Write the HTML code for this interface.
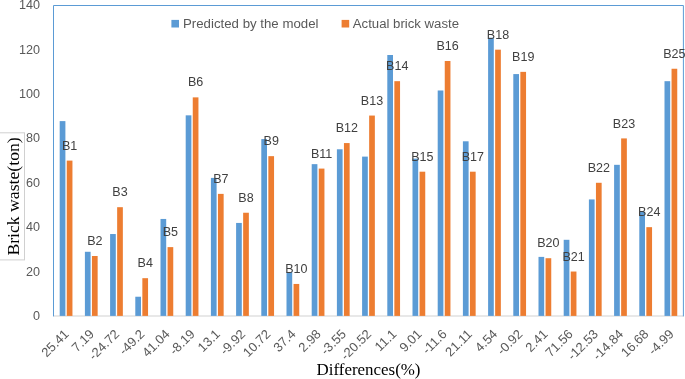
<!DOCTYPE html>
<html><head><meta charset="utf-8"><title>chart</title><style>html,body{margin:0;padding:0;background:#fff;}body{width:685px;height:379px;overflow:hidden;position:relative;}svg{position:absolute;left:0;top:0;display:block;will-change:transform;}text{font-family:"Liberation Sans",sans-serif;}.s{font-family:"Liberation Serif",serif;}</style>
</head><body>
<svg width="685" height="379" viewBox="0 0 685 379">
<rect x="0" y="0" width="685" height="379" fill="#ffffff"/>
<line x1="53.5" y1="316" x2="683.5" y2="316" stroke="#e0e0e0" stroke-width="1.5"/>
<rect x="59.70" y="121.11" width="5.70" height="194.79" fill="#5b9bd5"/>
<rect x="66.75" y="160.60" width="5.70" height="155.30" fill="#ed7d31"/>
<rect x="84.90" y="251.78" width="5.70" height="64.12" fill="#5b9bd5"/>
<rect x="91.95" y="256.00" width="5.70" height="59.90" fill="#ed7d31"/>
<rect x="110.10" y="234.03" width="5.70" height="81.87" fill="#5b9bd5"/>
<rect x="117.15" y="207.19" width="5.70" height="108.71" fill="#ed7d31"/>
<rect x="135.30" y="296.73" width="5.70" height="19.17" fill="#5b9bd5"/>
<rect x="142.35" y="278.18" width="5.70" height="37.72" fill="#ed7d31"/>
<rect x="160.50" y="218.95" width="5.70" height="96.95" fill="#5b9bd5"/>
<rect x="167.55" y="247.12" width="5.70" height="68.78" fill="#ed7d31"/>
<rect x="185.70" y="115.34" width="5.70" height="200.56" fill="#5b9bd5"/>
<rect x="192.75" y="97.37" width="5.70" height="218.53" fill="#ed7d31"/>
<rect x="210.90" y="177.90" width="5.70" height="138.00" fill="#5b9bd5"/>
<rect x="217.95" y="193.88" width="5.70" height="122.02" fill="#ed7d31"/>
<rect x="236.10" y="222.94" width="5.70" height="92.96" fill="#5b9bd5"/>
<rect x="243.15" y="212.74" width="5.70" height="103.16" fill="#ed7d31"/>
<rect x="261.30" y="139.08" width="5.70" height="176.82" fill="#5b9bd5"/>
<rect x="268.35" y="156.16" width="5.70" height="159.74" fill="#ed7d31"/>
<rect x="286.50" y="271.97" width="5.70" height="43.93" fill="#5b9bd5"/>
<rect x="293.55" y="283.95" width="5.70" height="31.95" fill="#ed7d31"/>
<rect x="311.70" y="164.15" width="5.70" height="151.75" fill="#5b9bd5"/>
<rect x="318.75" y="168.59" width="5.70" height="147.31" fill="#ed7d31"/>
<rect x="336.90" y="149.29" width="5.70" height="166.61" fill="#5b9bd5"/>
<rect x="343.95" y="143.07" width="5.70" height="172.83" fill="#ed7d31"/>
<rect x="362.10" y="156.61" width="5.70" height="159.29" fill="#5b9bd5"/>
<rect x="369.15" y="115.56" width="5.70" height="200.34" fill="#ed7d31"/>
<rect x="387.30" y="55.00" width="5.70" height="260.90" fill="#5b9bd5"/>
<rect x="394.35" y="81.18" width="5.70" height="234.72" fill="#ed7d31"/>
<rect x="412.50" y="158.60" width="5.70" height="157.30" fill="#5b9bd5"/>
<rect x="419.55" y="171.69" width="5.70" height="144.21" fill="#ed7d31"/>
<rect x="437.70" y="90.49" width="5.70" height="225.41" fill="#5b9bd5"/>
<rect x="444.75" y="60.99" width="5.70" height="254.91" fill="#ed7d31"/>
<rect x="462.90" y="141.30" width="5.70" height="174.60" fill="#5b9bd5"/>
<rect x="469.95" y="171.69" width="5.70" height="144.21" fill="#ed7d31"/>
<rect x="488.10" y="37.69" width="5.70" height="278.21" fill="#5b9bd5"/>
<rect x="495.15" y="49.67" width="5.70" height="266.23" fill="#ed7d31"/>
<rect x="513.30" y="74.08" width="5.70" height="241.82" fill="#5b9bd5"/>
<rect x="520.35" y="71.86" width="5.70" height="244.04" fill="#ed7d31"/>
<rect x="538.50" y="256.89" width="5.70" height="59.01" fill="#5b9bd5"/>
<rect x="545.55" y="258.22" width="5.70" height="57.68" fill="#ed7d31"/>
<rect x="563.70" y="239.80" width="5.70" height="76.10" fill="#5b9bd5"/>
<rect x="570.75" y="271.53" width="5.70" height="44.37" fill="#ed7d31"/>
<rect x="588.90" y="199.43" width="5.70" height="116.48" fill="#5b9bd5"/>
<rect x="595.95" y="182.79" width="5.70" height="133.11" fill="#ed7d31"/>
<rect x="614.10" y="164.82" width="5.70" height="151.08" fill="#5b9bd5"/>
<rect x="621.15" y="138.41" width="5.70" height="177.49" fill="#ed7d31"/>
<rect x="639.30" y="211.85" width="5.70" height="104.05" fill="#5b9bd5"/>
<rect x="646.35" y="227.16" width="5.70" height="88.74" fill="#ed7d31"/>
<rect x="664.50" y="81.18" width="5.70" height="234.72" fill="#5b9bd5"/>
<rect x="671.55" y="68.75" width="5.70" height="247.15" fill="#ed7d31"/>
<path d="M53.5 316.4 L53.5 5.5 L683.4 5.5 L683.4 316.4" fill="none" stroke="#5b9bd5" stroke-width="1"/>
<text x="40.0" y="319.90" font-size="12.6" fill="#595959" text-anchor="end">0</text>
<text x="40.0" y="275.53" font-size="12.6" fill="#595959" text-anchor="end">20</text>
<text x="40.0" y="231.16" font-size="12.6" fill="#595959" text-anchor="end">40</text>
<text x="40.0" y="186.79" font-size="12.6" fill="#595959" text-anchor="end">60</text>
<text x="40.0" y="142.41" font-size="12.6" fill="#595959" text-anchor="end">80</text>
<text x="40.0" y="98.04" font-size="12.6" fill="#595959" text-anchor="end">100</text>
<text x="40.0" y="53.67" font-size="12.6" fill="#595959" text-anchor="end">120</text>
<text x="40.0" y="9.30" font-size="12.6" fill="#595959" text-anchor="end">140</text>
<text transform="translate(69.60 149.70) scale(0.965 1)" font-size="13.0" fill="#404040" text-anchor="middle">B1</text>
<text transform="translate(94.80 245.10) scale(0.965 1)" font-size="13.0" fill="#404040" text-anchor="middle">B2</text>
<text transform="translate(120.00 196.29) scale(0.965 1)" font-size="13.0" fill="#404040" text-anchor="middle">B3</text>
<text transform="translate(145.20 267.28) scale(0.965 1)" font-size="13.0" fill="#404040" text-anchor="middle">B4</text>
<text transform="translate(170.40 236.22) scale(0.965 1)" font-size="13.0" fill="#404040" text-anchor="middle">B5</text>
<text transform="translate(195.60 86.47) scale(0.965 1)" font-size="13.0" fill="#404040" text-anchor="middle">B6</text>
<text transform="translate(220.80 182.98) scale(0.965 1)" font-size="13.0" fill="#404040" text-anchor="middle">B7</text>
<text transform="translate(246.00 201.84) scale(0.965 1)" font-size="13.0" fill="#404040" text-anchor="middle">B8</text>
<text transform="translate(271.20 145.26) scale(0.965 1)" font-size="13.0" fill="#404040" text-anchor="middle">B9</text>
<text transform="translate(296.40 273.05) scale(0.965 1)" font-size="13.0" fill="#404040" text-anchor="middle">B10</text>
<text transform="translate(321.60 157.69) scale(0.965 1)" font-size="13.0" fill="#404040" text-anchor="middle">B11</text>
<text transform="translate(346.80 132.17) scale(0.965 1)" font-size="13.0" fill="#404040" text-anchor="middle">B12</text>
<text transform="translate(372.00 104.66) scale(0.965 1)" font-size="13.0" fill="#404040" text-anchor="middle">B13</text>
<text transform="translate(397.20 70.28) scale(0.965 1)" font-size="13.0" fill="#404040" text-anchor="middle">B14</text>
<text transform="translate(422.40 160.79) scale(0.965 1)" font-size="13.0" fill="#404040" text-anchor="middle">B15</text>
<text transform="translate(447.60 50.09) scale(0.965 1)" font-size="13.0" fill="#404040" text-anchor="middle">B16</text>
<text transform="translate(472.80 160.79) scale(0.965 1)" font-size="13.0" fill="#404040" text-anchor="middle">B17</text>
<text transform="translate(498.00 38.77) scale(0.965 1)" font-size="13.0" fill="#404040" text-anchor="middle">B18</text>
<text transform="translate(523.20 60.96) scale(0.965 1)" font-size="13.0" fill="#404040" text-anchor="middle">B19</text>
<text transform="translate(548.40 247.32) scale(0.965 1)" font-size="13.0" fill="#404040" text-anchor="middle">B20</text>
<text transform="translate(573.60 260.63) scale(0.965 1)" font-size="13.0" fill="#404040" text-anchor="middle">B21</text>
<text transform="translate(598.80 171.89) scale(0.965 1)" font-size="13.0" fill="#404040" text-anchor="middle">B22</text>
<text transform="translate(624.00 127.51) scale(0.965 1)" font-size="13.0" fill="#404040" text-anchor="middle">B23</text>
<text transform="translate(649.20 216.26) scale(0.965 1)" font-size="13.0" fill="#404040" text-anchor="middle">B24</text>
<text transform="translate(674.40 57.85) scale(0.965 1)" font-size="13.0" fill="#404040" text-anchor="middle">B25</text>
<text transform="translate(67.30 332.40) rotate(-45)" font-size="13.0" fill="#595959" text-anchor="end" dominant-baseline="middle">25.41</text>
<text transform="translate(92.50 332.40) rotate(-45)" font-size="13.0" fill="#595959" text-anchor="end" dominant-baseline="middle">7.19</text>
<text transform="translate(117.70 332.40) rotate(-45)" font-size="13.0" fill="#595959" text-anchor="end" dominant-baseline="middle">-24.72</text>
<text transform="translate(142.90 332.40) rotate(-45)" font-size="13.0" fill="#595959" text-anchor="end" dominant-baseline="middle">-49.2</text>
<text transform="translate(168.10 332.40) rotate(-45)" font-size="13.0" fill="#595959" text-anchor="end" dominant-baseline="middle">41.04</text>
<text transform="translate(193.30 332.40) rotate(-45)" font-size="13.0" fill="#595959" text-anchor="end" dominant-baseline="middle">-8.19</text>
<text transform="translate(218.50 332.40) rotate(-45)" font-size="13.0" fill="#595959" text-anchor="end" dominant-baseline="middle">13.1</text>
<text transform="translate(243.70 332.40) rotate(-45)" font-size="13.0" fill="#595959" text-anchor="end" dominant-baseline="middle">-9.92</text>
<text transform="translate(268.90 332.40) rotate(-45)" font-size="13.0" fill="#595959" text-anchor="end" dominant-baseline="middle">10.72</text>
<text transform="translate(294.10 332.40) rotate(-45)" font-size="13.0" fill="#595959" text-anchor="end" dominant-baseline="middle">37.4</text>
<text transform="translate(319.30 332.40) rotate(-45)" font-size="13.0" fill="#595959" text-anchor="end" dominant-baseline="middle">2.98</text>
<text transform="translate(344.50 332.40) rotate(-45)" font-size="13.0" fill="#595959" text-anchor="end" dominant-baseline="middle">-3.55</text>
<text transform="translate(369.70 332.40) rotate(-45)" font-size="13.0" fill="#595959" text-anchor="end" dominant-baseline="middle">-20.52</text>
<text transform="translate(394.90 332.40) rotate(-45)" font-size="13.0" fill="#595959" text-anchor="end" dominant-baseline="middle">11.1</text>
<text transform="translate(420.10 332.40) rotate(-45)" font-size="13.0" fill="#595959" text-anchor="end" dominant-baseline="middle">9.01</text>
<text transform="translate(445.30 332.40) rotate(-45)" font-size="13.0" fill="#595959" text-anchor="end" dominant-baseline="middle">-11.6</text>
<text transform="translate(470.50 332.40) rotate(-45)" font-size="13.0" fill="#595959" text-anchor="end" dominant-baseline="middle">21.11</text>
<text transform="translate(495.70 332.40) rotate(-45)" font-size="13.0" fill="#595959" text-anchor="end" dominant-baseline="middle">4.54</text>
<text transform="translate(520.90 332.40) rotate(-45)" font-size="13.0" fill="#595959" text-anchor="end" dominant-baseline="middle">-0.92</text>
<text transform="translate(546.10 332.40) rotate(-45)" font-size="13.0" fill="#595959" text-anchor="end" dominant-baseline="middle">2.41</text>
<text transform="translate(571.30 332.40) rotate(-45)" font-size="13.0" fill="#595959" text-anchor="end" dominant-baseline="middle">71.56</text>
<text transform="translate(596.50 332.40) rotate(-45)" font-size="13.0" fill="#595959" text-anchor="end" dominant-baseline="middle">-12.53</text>
<text transform="translate(621.70 332.40) rotate(-45)" font-size="13.0" fill="#595959" text-anchor="end" dominant-baseline="middle">-14.84</text>
<text transform="translate(646.90 332.40) rotate(-45)" font-size="13.0" fill="#595959" text-anchor="end" dominant-baseline="middle">16.68</text>
<text transform="translate(672.10 332.40) rotate(-45)" font-size="13.0" fill="#595959" text-anchor="end" dominant-baseline="middle">-4.99</text>
<rect x="171.4" y="19.9" width="7.6" height="7.6" fill="#5b9bd5"/>
<text x="183" y="27.6" font-size="12.0" fill="#595959" textLength="135.5" lengthAdjust="spacingAndGlyphs">Predicted by the model</text>
<rect x="341.6" y="19.9" width="7.6" height="7.6" fill="#ed7d31"/>
<text x="352.8" y="27.6" font-size="12.0" fill="#595959" textLength="106.2" lengthAdjust="spacingAndGlyphs">Actual brick waste</text>
<text class="s" x="316.5" y="375.0" font-size="17.4" fill="#000" textLength="104" lengthAdjust="spacingAndGlyphs">Differences(%)</text>
<rect x="-1" y="132.8" width="25.5" height="127.1" fill="#fff" stroke="#d0d0d0" stroke-width="1"/>
<text class="s" transform="translate(19.4 255.6) rotate(-90)" font-size="17.5" fill="#000" textLength="118.3" lengthAdjust="spacingAndGlyphs">Brick waste(ton)</text>
</svg>
</body></html>
